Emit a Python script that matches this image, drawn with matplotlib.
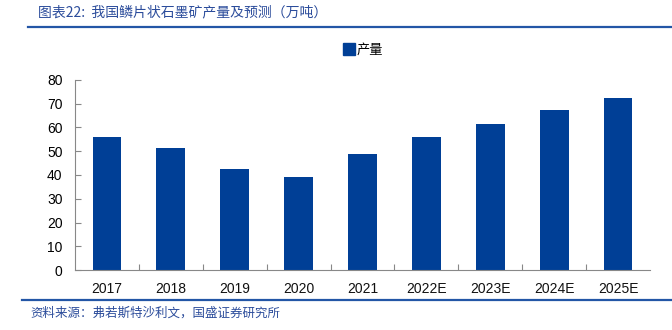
import matplotlib
matplotlib.use("Agg")
import matplotlib.pyplot as plt
from matplotlib.lines import Line2D

plt.rcParams['font.family'] = ['Noto Sans CJK SC', 'DejaVu Sans']

# data
years = ['2017', '2018', '2019', '2020', '2021', '2022E', '2023E', '2024E', '2025E']
output = [56.0, 51.2, 42.5, 39.3, 48.9, 55.8, 61.5, 67.2, 72.3]
yticks = [0, 10, 20, 30, 40, 50, 60, 70, 80]

bar_color = '#003F96'
title_color = '#2B4C9B'
num_font = 'Liberation Sans'

fig = plt.figure(figsize=(6.72, 3.3), dpi=100)
ax = fig.add_axes([0.1116, 0.1818, 0.8557, 0.5758])

x = range(len(years))
ax.bar(x, output, width=0.45, color=bar_color, label='产量', zorder=2)

ax.set_xlim(-0.5, len(years) - 0.5)
ax.set_ylim(0, 80)
ax.set_yticks(yticks)
ax.set_yticklabels([str(t) for t in yticks], family=num_font, fontsize=10)

# category labels centred, tick marks on category boundaries
ax.set_xticks([i + 0.5 for i in range(len(years) - 1)])
ax.set_xticklabels([])
ax.tick_params(axis='x', direction='in', length=4, color='#888888')
ax.tick_params(axis='y', direction='in', length=4, color='#888888', pad=9)
for i, yr in enumerate(years):
    ax.text(i, -5.0, yr, ha='center', va='top', fontsize=10,
            family=num_font, color='#111111')

for s in ['top', 'right']:
    ax.spines[s].set_visible(False)
ax.spines['left'].set_color('#888888')
ax.spines['bottom'].set_color('#888888')

# legend
handle = Line2D([], [], marker='s', color='none', markerfacecolor=bar_color,
                markeredgecolor=bar_color, markersize=8)
fig.legend([handle], ['产量'], loc='center', bbox_to_anchor=(0.54, 0.848),
           frameon=False, fontsize=9.5, handletextpad=0.1, handlelength=1.0)

# title and source
fig.text(0.057, 0.962, '图表22:  我国鳞片状石墨矿产量及预测（万吨）', color=title_color,
         fontsize=10, ha='left', va='center', style='italic')
fig.add_artist(Line2D([0.042, 1.0], [0.918, 0.918], color='#2356A6', lw=1.6,
                      transform=fig.transFigure))
fig.add_artist(Line2D([0.033, 1.0], [0.091, 0.091], color='#2356A6', lw=1.6,
                      transform=fig.transFigure))
fig.text(0.045, 0.052, '资料来源：弗若斯特沙利文，国盛证券研究所', color=title_color,
         fontsize=9, ha='left', va='center', style='italic')

fig.savefig('out.png', dpi=100)
